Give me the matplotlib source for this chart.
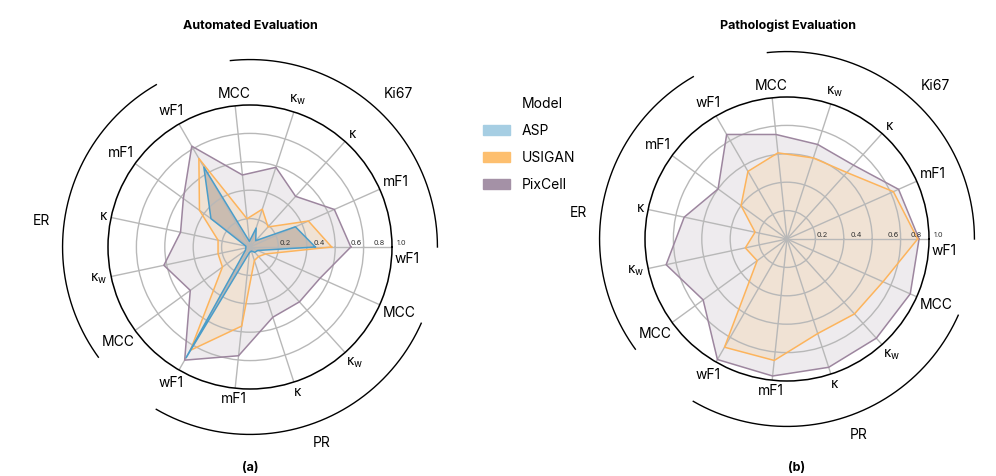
import numpy as np
import matplotlib
matplotlib.use('Agg')
import matplotlib.pyplot as plt
from matplotlib.patches import Patch

plt.rcParams['font.family'] = ['Inter', 'DejaVu Sans']

# ------------------------------------------------------------
# data
metrics = ['wF1', 'mF1', 'κ', r'κ$_\mathregular{w}$', 'MCC']
groups = ['Ki67', 'ER', 'PR']
models = ['ASP', 'USIGAN', 'PixCell']

# order: Ki67 (wF1, mF1, k, kw, MCC), ER (...), PR (...)
auto_asp = [0.46, 0.35, 0.06, 0.14, 0.04,
            0.65, 0.34, 0.03, 0.03, 0.04,
            0.90, 0.04, 0.03, 0.05, 0.06]
auto_usigan = [0.575, 0.45, 0.19, 0.28, 0.20,
               0.72, 0.44, 0.23, 0.23, 0.24,
               0.84, 0.56, 0.10, 0.09, 0.12]
auto_pixcell = [0.71, 0.65, 0.48, 0.59, 0.51,
                0.82, 0.58, 0.50, 0.62, 0.52,
                0.92, 0.77, 0.52, 0.52, 0.54]

path_usigan = [0.92, 0.82, 0.63, 0.60, 0.61,
               0.55, 0.40, 0.23, 0.30, 0.26,
               0.88, 0.86, 0.70, 0.71, 0.74]
path_pixcell = [0.93, 0.86, 0.70, 0.70, 0.74,
                0.85, 0.60, 0.74, 0.87, 0.73,
                0.98, 0.97, 0.95, 0.94, 0.95]

rgrid_values = [0.2, 0.4, 0.6, 0.8, 1.0]

# ------------------------------------------------------------
# styles
patch_colors = {'ASP': '#a6cee3', 'USIGAN': '#fdbf6f', 'PixCell': '#a491a6'}
line_colors = {'ASP': '#4a9dca', 'USIGAN': '#fdb45c', 'PixCell': '#9d869f'}
fill_colors = {'ASP': '#85766e', 'USIGAN': '#fdbf6f', 'PixCell': '#a491a6'}
fill_alpha = {'ASP': 0.35, 'USIGAN': 0.2, 'PixCell': 0.18}

labels = metrics * len(groups)
n_axes = len(labels)
angles = np.arange(n_axes) * 2 * np.pi / n_axes

W, H = 996, 476
fig = plt.figure(figsize=(W / 100, H / 100), dpi=100)


def make_ax(cx, cy, R=142):
    # cx, cy in pixels from the top-left corner
    return fig.add_axes([(cx - R) / W, (H - cy - R) / H, 2 * R / W, 2 * R / H],
                        projection='polar')


def radar(ax, series):
    ax.set_ylim(0, 1)
    ax.set_xticks(angles)
    ax.set_xticklabels([])
    ax.set_yticks(rgrid_values[:-1])
    ax.set_yticklabels([])
    ax.grid(color='#b8b8b8', lw=1.0)
    ax.spines['polar'].set_color('black')
    ax.spines['polar'].set_linewidth(1.1)
    ax.tick_params(length=0)

    for name, vals in series:
        th = np.append(angles, angles[0])
        v = np.append(vals, vals[0])
        ax.fill(th, v, color=fill_colors[name], alpha=fill_alpha[name], lw=0)
        ax.plot(th, v, color=line_colors[name], lw=1.1)

    # radial value labels just above the 0 degree spoke
    for val, r in zip(rgrid_values, [0.245, 0.49, 0.75, 0.91, 1.07]):
        ax.annotate('%.1f' % val, xy=(0, r), xytext=(0, 4),
                    textcoords='offset pixels', ha='center', va='center',
                    fontsize=5.3, color='#333333', annotation_clip=False)

    # metric labels around the outside
    renderer = fig.canvas.get_renderer()
    for i, (th, lab) in enumerate(zip(angles, labels)):
        t = ax.text(0, 0, lab, fontsize=10)
        bb = t.get_window_extent(renderer)
        t.remove()
        off = 3 + 0.5 * (abs(np.cos(th)) * bb.width + abs(np.sin(th)) * bb.height)
        dx, dy = off * np.cos(th), off * np.sin(th)
        if i == 0:
            dy -= 12
        ax.annotate(lab, xy=(th, 1.0), xytext=(dx, dy),
                    textcoords='offset pixels', ha='center', va='center',
                    fontsize=10, annotation_clip=False)

    # group arcs and names
    for g, name in enumerate(groups):
        a0 = angles[g * len(metrics)]
        a1 = angles[g * len(metrics) + len(metrics) - 1]
        tt = np.linspace(a0, a1, 200)
        ax.plot(tt, np.full_like(tt, 1.32), color='black', lw=1.0, clip_on=False)
    for name, a, r in zip(groups, [46, 173, 290], [1.5, 1.48, 1.47]):
        ax.text(np.deg2rad(a), r, name, ha='center', va='center', fontsize=10)


ax1 = make_ax(250, 247)
radar(ax1, [('PixCell', auto_pixcell), ('USIGAN', auto_usigan), ('ASP', auto_asp)])

ax2 = make_ax(787, 239)
radar(ax2, [('PixCell', path_pixcell), ('USIGAN', path_usigan)])

fig.text(250 / W, 1 - 26 / H, 'Automated Evaluation', ha='center', va='center',
         fontsize=9, fontweight='bold')
fig.text(788 / W, 1 - 26 / H, 'Pathologist Evaluation', ha='center', va='center',
         fontsize=9, fontweight='bold')
fig.text(250 / W, 1 - 468 / H, '(a)', ha='center', va='center',
         fontsize=9, fontweight='bold')
fig.text(797 / W, 1 - 468 / H, '(b)', ha='center', va='center',
         fontsize=9, fontweight='bold')

# legend: seaborn-like, title as an entry with an invisible handle
handles = [Patch(visible=False)] + [Patch(color=patch_colors[m]) for m in models]
fig.legend(handles, ['Model'] + models, loc='upper left',
           bbox_to_anchor=(470 / W, 1 - 84 / H), frameon=False, fontsize=10,
           handlelength=2.0, handleheight=0.7, handletextpad=0.85,
           labelspacing=0.95, borderpad=0.4)

fig.savefig('out.png', dpi=100)
